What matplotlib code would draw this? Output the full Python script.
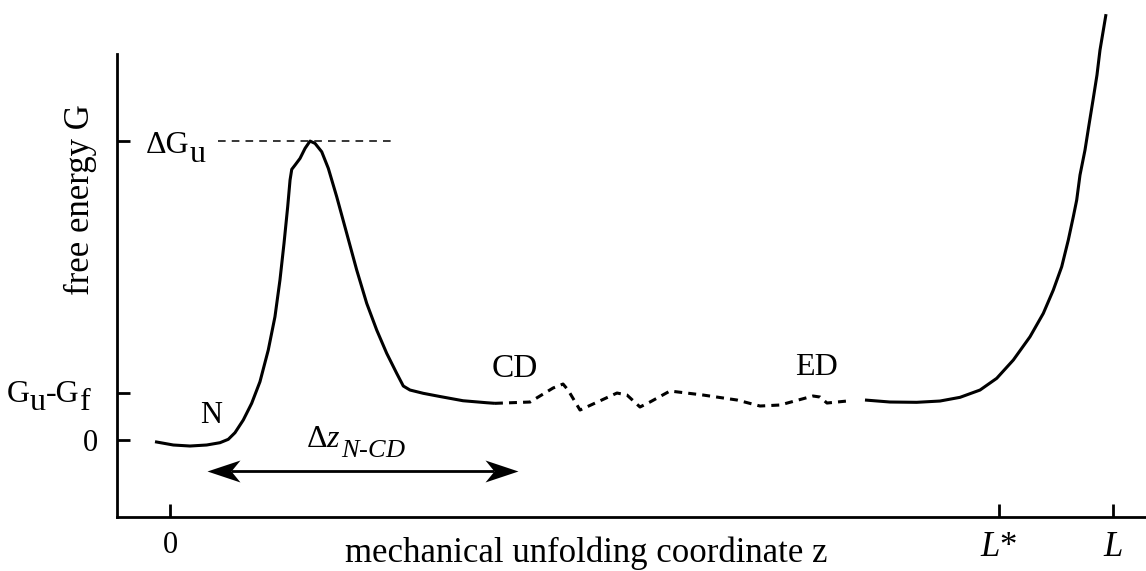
import matplotlib
matplotlib.use("Agg")
import matplotlib.pyplot as plt

plt.rcParams['font.family'] = ['Liberation Serif', 'DejaVu Serif']
plt.rcParams['mathtext.fontset'] = 'custom'
plt.rcParams['mathtext.rm'] = 'Liberation Serif'
plt.rcParams['mathtext.it'] = 'Liberation Serif:italic'

# energy profile along z (z in units of L/10, G in units of dG_u/10)
z_native = [-0.159, 0.035, 0.212, 0.389, 0.530, 0.618, 0.689, 0.777, 0.866, 0.954,
            1.042, 1.113, 1.166, 1.209, 1.248, 1.273, 1.291, 1.326, 1.379, 1.432,
            1.485, 1.538, 1.609, 1.679, 1.768, 1.874, 1.980, 2.086, 2.192, 2.298,
            2.404, 2.474, 2.545, 2.686, 2.863, 3.107, 3.358, 3.446]
g_native = [-0.057, -0.167, -0.201, -0.167, -0.090, 0.023, 0.244, 0.669, 1.227, 1.950,
            3.010, 4.124, 5.351, 6.579, 7.803, 8.696, 9.054, 9.197, 9.421, 9.756,
            10.0, 9.923, 9.642, 9.087, 8.137, 6.913, 5.686, 4.572, 3.679, 2.900,
            2.231, 1.806, 1.672, 1.562, 1.455, 1.314, 1.247, 1.227]

z_unfold = [3.446, 3.818, 4.062, 4.168, 4.221, 4.348, 4.740, 4.846, 4.984, 5.090,
            5.302, 5.652, 6.013, 6.257, 6.469, 6.819, 6.893, 6.967, 7.179]
g_unfold = [1.227, 1.271, 1.739, 1.873, 1.672, 1.003, 1.572, 1.505, 1.104, 1.271,
            1.639, 1.505, 1.338, 1.137, 1.171, 1.472, 1.438, 1.237, 1.304]

z_stretch = [7.370, 7.635, 7.918, 8.165, 8.378, 8.590, 8.767, 8.943, 9.120, 9.261,
             9.367, 9.456, 9.526, 9.579, 9.615, 9.650, 9.703, 9.745, 9.788, 9.830,
             9.862, 9.894, 9.926]
g_stretch = [1.338, 1.271, 1.261, 1.304, 1.428, 1.672, 2.064, 2.676, 3.455, 4.237,
             5.017, 5.796, 6.689, 7.468, 8.027, 8.863, 9.699, 10.535, 11.371, 12.207,
             13.043, 13.645, 14.247]

dG_u = 10.0
G_uf = 1.57
L_star = 8.79
L = 10.0
dz_ends = [0.392, 3.690]
dz_level = -1.037

W, H = 1146, 571
fig = plt.figure(figsize=(W / 100, H / 100), dpi=100)
ax = fig.add_axes([0.1021, 0.0946, 0.8979, 0.9054])
ax.set_xlim(-0.562, 10.35)
ax.set_ylim(-2.575, 14.72)

lw = 2.2
style = dict(color='black', lw=lw, clip_on=False, solid_joinstyle='round',
             solid_capstyle='butt')
ax.plot(z_native, g_native, **style)
ax.plot(z_unfold, g_unfold, color='black', lw=lw, dashes=(2.6, 2.0), clip_on=False)
ax.plot(z_stretch, g_stretch, **style)

# barrier height guide
ax.plot([0.509, 2.365], [dG_u, dG_u], color='black', lw=1.1, dashes=(5, 4))

# double arrow for the distance N -> CD, heads as concave custom markers
head_r = [(0, 0), (-33, 11), (-24, 0), (-33, -11), (0, 0)]
head_l = [(-x, y) for x, y in head_r]
notch = 24 / 94.3
ax.plot([dz_ends[0] + notch, dz_ends[1] - notch], [dz_level, dz_level],
        color='black', lw=2.0, solid_capstyle='butt')
ax.plot([dz_ends[1]], [dz_level], marker=head_r, ms=47.5, color='black', mew=0)
ax.plot([dz_ends[0]], [dz_level], marker=head_l, ms=47.5, color='black', mew=0)

ax.text(0.435, 0.82, 'N', fontsize=22, ha='center', va='center')
ax.text(3.66, 2.4, 'CD', fontsize=24, ha='center', va='center')
ax.text(6.86, 2.44, 'ED', fontsize=23, ha='center', va='center')

for side in ['top', 'right']:
    ax.spines[side].set_visible(False)
for side in ['left', 'bottom']:
    ax.spines[side].set_linewidth(2.0)
ax.spines['left'].set_bounds(-2.575, 12.91)

ax.set_yticks([0, G_uf, dG_u])
ax.set_yticklabels(['0', '', ''])
ax.set_xticks([0, L_star, L])
ax.set_xticklabels(['0', r'$L$*', r'$L$'])
ax.tick_params(axis='both', direction='in', length=9.4, width=2.0)
ax.tick_params(axis='y', pad=14, labelsize=22)
ax.tick_params(axis='x', pad=10, labelsize=25)
ax.get_xticklabels()[0].set_fontsize(22)

renderer = fig.canvas.get_renderer()


def run_text(x_px, y_px, pieces, size):
    # consecutive pieces on one line; drop lowers a piece (subscript at full size)
    for s, sz, drop in pieces:
        t = fig.text(x_px / W, 1 - (y_px + drop) / H, s, fontsize=sz or size,
                     ha='left', va='baseline')
        x_px = t.get_window_extent(renderer).x1


run_text(146, 153, [('ΔG', None, 0), ('u', None, 9)], 23)
run_text(7, 402, [('G', None, 0), ('u', None, 8), ('-G', None, 0), ('f', None, 8)], 23)
run_text(306, 447, [(r'Δ$z$', 23, 0), (r'$N$-$CD$', 19, 10)], 19)

fig.text(80 / W, 1 - 200 / H, 'free energy G', rotation=90, fontsize=25,
         ha='center', va='center')
fig.text(586 / W, 1 - 562 / H, 'mechanical unfolding coordinate z', fontsize=25,
         ha='center', va='baseline')

fig.savefig('out.png', dpi=100)
